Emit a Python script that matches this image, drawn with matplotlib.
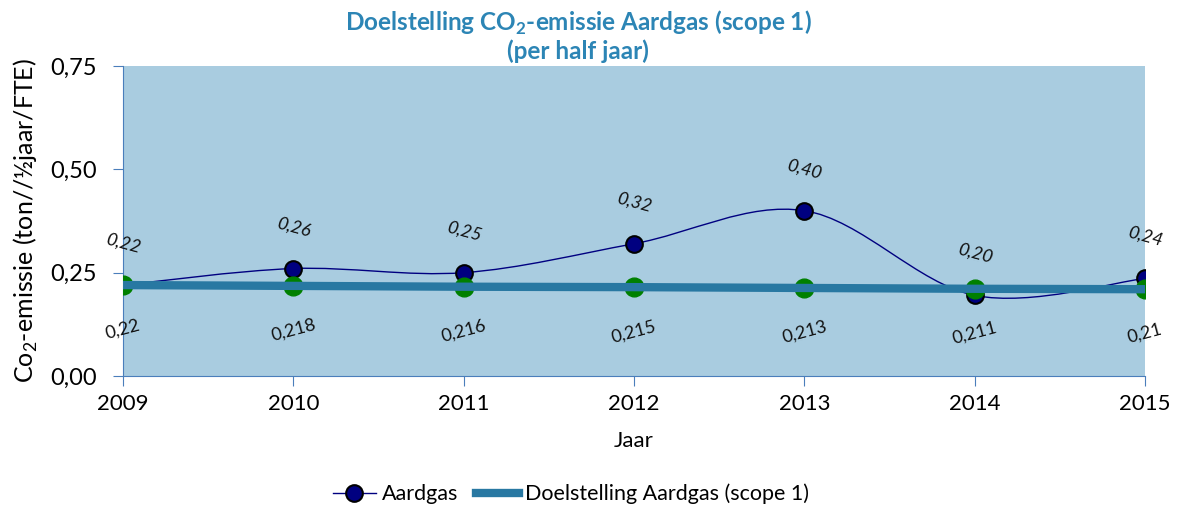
import matplotlib
matplotlib.use("Agg")
import matplotlib.pyplot as plt
from matplotlib.path import Path
from matplotlib.patches import PathPatch
from matplotlib.lines import Line2D
from matplotlib.ticker import FuncFormatter

plt.rcParams['font.family'] = ['Lato', 'DejaVu Sans']
plt.rcParams['mathtext.fontset'] = 'custom'
plt.rcParams['mathtext.rm'] = 'Lato'
plt.rcParams['mathtext.bf'] = 'Lato:bold'

years = [2009, 2010, 2011, 2012, 2013, 2014, 2015]
aardgas = [0.22, 0.26, 0.25, 0.32, 0.40, 0.195, 0.236]
doel = [0.22, 0.218, 0.216, 0.215, 0.213, 0.211, 0.21]
yticks = [0.0, 0.25, 0.5, 0.75]

navy = '#000080'
teal = '#2878A2'
title_col = '#2C85B5'
spine_col = '#4A7EBB'
bg = '#A9CCE0'


def comma(v, dec=None):
    s = ('{:.%df}' % dec).format(v) if dec is not None else '{:g}'.format(v)
    return s.replace('.', ',')


def smooth_path(xs, ys):
    # excel-like smoothed line: catmull-rom as cubic bezier segments
    pts = list(zip(xs, ys))
    verts = [pts[0]]
    codes = [Path.MOVETO]
    n = len(pts)
    for i in range(n - 1):
        p0 = pts[max(i - 1, 0)]
        p1 = pts[i]
        p2 = pts[i + 1]
        p3 = pts[min(i + 2, n - 1)]
        c1 = (p1[0] + (p2[0] - p0[0]) / 6, p1[1] + (p2[1] - p0[1]) / 6)
        c2 = (p2[0] - (p3[0] - p1[0]) / 6, p2[1] - (p3[1] - p1[1]) / 6)
        verts += [c1, c2, p2]
        codes += [Path.CURVE4] * 3
    return Path(verts, codes)


fig = plt.figure(figsize=(11.92, 5.11), dpi=100)
ax = fig.add_axes([0.1032, 0.2642, 0.8574, 0.6066])
ax.set_facecolor(bg)

ax.add_patch(PathPatch(smooth_path(years, aardgas), fc='none', ec=navy, lw=1, zorder=2))
ax.plot(years, aardgas, 'o', color=navy, ms=12, mec='black', mew=1.5, zorder=3)
ax.plot(years, doel, 'o', color='#008000', ms=13.5, mec='#008000', zorder=4)
ax.plot(years, doel, color=teal, lw=6, solid_capstyle='butt', zorder=5)

for x, v in zip(years, aardgas):
    ax.annotate(comma(v, 2), (x, v), xytext=(0, 30), textcoords='offset points',
                ha='center', va='center', rotation=-15, style='italic', fontsize=13, color='#111111')
for x, v in zip(years, doel):
    ax.annotate(comma(v), (x, v), xytext=(0, -32), textcoords='offset points',
                ha='center', va='center', rotation=15, fontsize=13, color='#111111')

ax.set_xlim(years[0], years[-1])
ax.set_ylim(0, 0.75)
ax.set_xticks(years)
ax.set_yticks(yticks)
ax.yaxis.set_major_formatter(FuncFormatter(lambda v, p: comma(v, 2)))
ax.tick_params(axis='both', direction='out', length=7, color=spine_col, labelsize=16, pad=6)
ax.tick_params(axis='y', labelsize=17, pad=12)
for s in ['top', 'right']:
    ax.spines[s].set_visible(False)
for s in ['left', 'bottom']:
    ax.spines[s].set_color(spine_col)
ax.set_xlabel('Jaar', fontsize=16, labelpad=12)
ax.set_ylabel('Co$_2$-emissie (ton//½jaar/FTE)', fontsize=18, labelpad=7)

fig.text(0.485, 0.955, 'Doelstelling CO$_\\mathbf{2}$-emissie Aardgas (scope 1)', ha='center', va='center',
         fontsize=17.5, fontweight='bold', color=title_col)
fig.text(0.485, 0.9, '(per half jaar)', ha='center', va='center',
         fontsize=17.5, fontweight='bold', color=title_col)

handles = [Line2D([], [], color=navy, lw=1, marker='o', ms=12, mfc=navy, mec='black', mew=1.5),
           Line2D([], [], color=teal, lw=6)]
fig.legend(handles, ['Aardgas', 'Doelstelling Aardgas (scope 1)'], loc='center',
           bbox_to_anchor=(0.479, 0.033), ncol=2, frameon=False, fontsize=15.5,
           handlelength=2.0, columnspacing=0.8, handletextpad=0.3)

fig.savefig('out.png', dpi=100)
